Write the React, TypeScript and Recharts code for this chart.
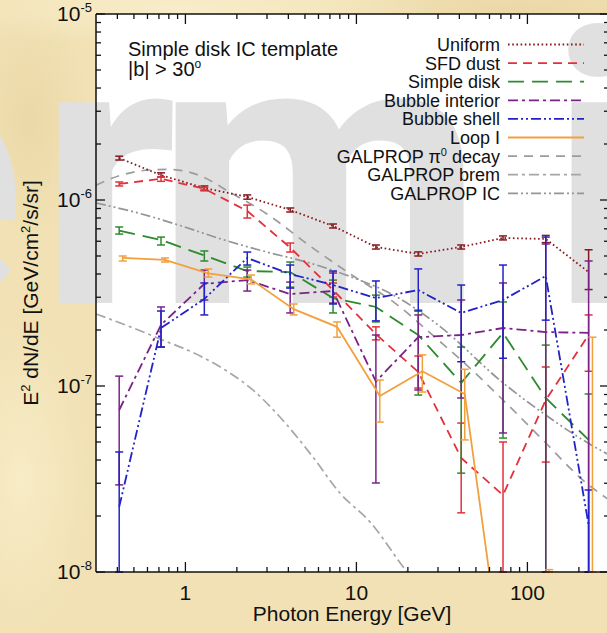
import { LineChart, Line, XAxis, YAxis, ErrorBar } from "recharts"

// bin centres (GeV); Loop I is plotted slightly offset
const energies = [0.41, 0.72, 1.29, 2.3, 4.1, 7.3, 13, 23, 41, 72, 128, 228]
const loopIEnergies = [0.43, 0.76, 1.36, 2.42, 4.3, 7.7, 13.7, 24.3, 43, 76, 134, 240]

// E^2 dN/dE [GeV/cm^2/s/sr], with lower / upper error bounds
// (1e-8 = bar runs down to the axis, null = no bar)
const uniform = [1.68e-6, 1.36e-6, 1.16e-6, 1.04e-6, 8.84e-7, 7.25e-7, 5.59e-7, 5.13e-7, 5.59e-7, 6.25e-7, 6.17e-7, 4.1e-7]
const uniformLo = [1.64e-6, 1.33e-6, 1.13e-6, 1.01e-6, 8.62e-7, 7.07e-7, 5.45e-7, 5.0e-7, 5.45e-7, 6.1e-7, 5.9e-7, 3.3e-7]
const uniformHi = [1.72e-6, 1.4e-6, 1.19e-6, 1.065e-6, 9.06e-7, 7.43e-7, 5.73e-7, 5.26e-7, 5.73e-7, 6.41e-7, 6.45e-7, 5.4e-7]

const sfdDust = [1.22e-6, 1.3e-6, 1.15e-6, 8.73e-7, 5.55e-7, 3.28e-7, 1.9e-7, 1.19e-7, 4.1e-8, 2.59e-8, 8.41e-8, 1.88e-7]
const sfdDustLo = [1.19e-6, 1.26e-6, 1.12e-6, 8.0e-7, 5.25e-7, 3.01e-7, 1.77e-7, 9.75e-8, 2.08e-8, 1e-8, 3.9e-8, 1.2e-7]
const sfdDustHi = [1.25e-6, 1.33e-6, 1.17e-6, 9.39e-7, 5.87e-7, 3.58e-7, 2.08e-7, 1.45e-7, 6.32e-8, 5.0e-8, 1.265e-7, 2.41e-7]

const simpleDisk = [6.85e-7, 6.1e-7, 5.03e-7, 4.15e-7, 4.1e-7, 2.97e-7, 2.66e-7, 1.88e-7, 1.04e-7, 1.93e-7, 8.62e-8, 5.13e-8]
const simpleDiskLo = [6.56e-7, 5.73e-7, 4.7e-7, 3.85e-7, 3.4e-7, 2.47e-7, 2.21e-7, 8.94e-8, 3.4e-8, 5.25e-8, 1e-8, 1e-8]
const simpleDiskHi = [7.16e-7, 6.32e-7, 5.32e-7, 4.36e-7, 4.64e-7, 3.71e-7, 3.08e-7, 2.56e-7, 1.62e-7, 2.83e-7, 1.66e-7, 9.06e-8]

const bubbleInterior = [7.43e-8, 2.13e-7, 3.54e-7, 3.71e-7, 3.12e-7, 3.24e-7, 1.057e-7, 1.83e-7, 1.88e-7, 2.05e-7, 1.95e-7, 1.93e-7]
const bubbleInteriorLo = [2.94e-8, 1.62e-7, 2.9e-7, 3.24e-7, 2.47e-7, 2.79e-7, 3.01e-8, 9.52e-8, 8.62e-8, 5.59e-8, 1e-8, 1e-8]
const bubbleInteriorHi = [1.13e-7, 2.66e-7, 4.2e-7, 4.2e-7, 3.62e-7, 4.05e-7, 1.88e-7, 2.41e-7, 2.9e-7, 3.58e-7, 5.8e-7, 4.7e-7]

const bubbleShell = [2.24e-8, 2.05e-7, 2.94e-7, 4.88e-7, 4.0e-7, 3.49e-7, 2.97e-7, 3.28e-7, 2.47e-7, 2.9e-7, 3.9e-7, 1.79e-8]
const bubbleShellLo = [1e-8, 1.62e-7, 2.41e-7, 4.47e-7, 3.36e-7, 2.76e-7, 2.24e-7, 2.53e-7, 1.35e-7, 1.41e-7, 2.26e-7, 1e-8]
const bubbleShellHi = [4.42e-8, 2.53e-7, 3.58e-7, 5.25e-7, 4.47e-7, 4.15e-7, 3.67e-7, 4.26e-7, 3.49e-7, 4.47e-7, 6.32e-7, 2.76e-8]

const loopI = [4.88e-7, 4.76e-7, 4.03e-7, 3.74e-7, 2.59e-7, 2.08e-7, 8.84e-8, 1.2e-7, 9.06e-8, 2e-9, 1e-9, 2e-9]
const loopILo = [4.7e-7, 4.64e-7, 3.85e-7, 3.54e-7, 2.41e-7, 1.83e-7, 6.4e-8, 9.28e-8, 5.13e-8, null, 1e-8, 1e-8]
const loopIHi = [5.0e-7, 4.88e-7, 4.26e-7, 3.95e-7, 2.76e-7, 2.21e-7, 1.077e-7, 1.47e-7, 1.23e-7, null, 1.03e-8, 1.83e-7]

// GALPROP model curves
const pi0Energies = [0.3, 0.41, 0.62, 0.81, 1.22, 1.82, 3.0, 5.35, 9.4, 16.8, 30, 42, 72, 123, 211, 300]
const pi0Decay = [1.2e-6, 1.35e-6, 1.45e-6, 1.46e-6, 1.35e-6, 1.1e-6, 8.41e-7, 5.66e-7, 3.95e-7, 2.79e-7, 1.77e-7, 1.35e-7, 8.41e-8, 5.13e-8, 3.12e-8, 2.44e-8]

const bremEnergies = [0.3, 0.53, 0.71, 1.22, 1.82, 2.48, 3.57, 5.57, 8.0, 12, 19.8, 30.8]
const brem = [2.44e-7, 2.0e-7, 1.79e-7, 1.45e-7, 1.175e-7, 9.52e-8, 6.81e-8, 4.15e-8, 2.66e-8, 1.86e-8, 1.0e-8, 6.25e-9]

const icEnergies = [0.3, 0.53, 0.95, 1.68, 3.0, 5.35, 9.4, 16.8, 30, 72, 123, 211, 300]
const inverseCompton = [9.64e-7, 8.51e-7, 7.25e-7, 6.1e-7, 5.25e-7, 4.58e-7, 3.85e-7, 3.05e-7, 2.13e-7, 1.04e-7, 7.16e-8, 5.13e-8, 4.26e-8]

const xTicks = [0.4, 0.5, 0.6, 0.7, 0.8, 0.9, 1, 2, 3, 4, 5, 6, 7, 8, 9, 10, 20, 30, 40, 50, 60, 70, 80, 90, 100, 200]
const yDecades = [-8, -7, -6]
const yTicks = [...yDecades.flatMap((d) => [1, 2, 3, 4, 5, 6, 7, 8, 9].map((m) => m * 10 ** d)), 1e-5]

const FONT = "'Liberation Sans', Arial, Helvetica, sans-serif"

type Row = { x: number; y: number; err?: [number, number] }

function rows(xs: number[], ys: number[], lo?: (number | null)[], hi?: (number | null)[]): Row[] {
  return xs.map((x, i) => {
    const l = lo?.[i]
    const h = hi?.[i]
    return { x, y: ys[i], err: l != null && h != null ? [ys[i] - l, h - ys[i]] : undefined }
  })
}

const series = [
  { name: "Uniform", color: "#861a1e", dash: "1.6 2.6", data: rows(energies, uniform, uniformLo, uniformHi) },
  { name: "SFD dust", color: "#e3303b", dash: "9 6", data: rows(energies, sfdDust, sfdDustLo, sfdDustHi) },
  { name: "Simple disk", color: "#2d8a2d", dash: "16 8", data: rows(energies, simpleDisk, simpleDiskLo, simpleDiskHi) },
  { name: "Bubble interior", color: "#7a2288", dash: "10 4 3 4", data: rows(energies, bubbleInterior, bubbleInteriorLo, bubbleInteriorHi) },
  { name: "Bubble shell", color: "#2222c8", dash: "10 3 2 3 2 3", data: rows(energies, bubbleShell, bubbleShellLo, bubbleShellHi) },
  { name: "Loop I", color: "#f2a03c", dash: undefined, data: rows(loopIEnergies, loopI, loopILo, loopIHi) },
]

const models = [
  { name: "GALPROP pi0", color: "#9c9c9c", dash: "9 7", data: rows(pi0Energies, pi0Decay) },
  { name: "GALPROP brem", color: "#a6a6a6", dash: "10 4 3 4", data: rows(bremEnergies, brem) },
  { name: "GALPROP IC", color: "#959595", dash: "10 3 2 3 2 3", data: rows(icEnergies, inverseCompton) },
]

const legendItems = [
  ...series.map((s) => ({ label: <>{s.name}</>, color: s.color, dash: s.dash })),
  { label: <>GALPROP π<tspan dy={-7} fontSize={11}>0</tspan><tspan dy={7}> decay</tspan></>, color: models[0].color, dash: models[0].dash },
  { label: <>GALPROP brem</>, color: models[1].color, dash: models[1].dash },
  { label: <>GALPROP IC</>, color: models[2].color, dash: models[2].dash },
]

const isDecade = (v: number) => Math.abs(Math.log10(v) - Math.round(Math.log10(v))) < 1e-6

function BottomTick(props: any) {
  const { x, y, payload } = props
  const major = isDecade(payload.value)
  return (
    <g>
      <line x1={x} x2={x} y1={y} y2={y - (major ? 10 : 5)} stroke="#111" strokeWidth={1.3} />
      {major && (
        <text x={x} y={y + 28} textAnchor="middle" fontSize={21} fontFamily={FONT} fill="#111">
          {payload.value}
        </text>
      )}
    </g>
  )
}

function TopTick(props: any) {
  const { x, y, payload } = props
  const major = isDecade(payload.value)
  return <line x1={x} x2={x} y1={y} y2={y + (major ? 10 : 5)} stroke="#111" strokeWidth={1.3} />
}

function LeftTick(props: any) {
  const { x, y, payload } = props
  const major = isDecade(payload.value)
  const exp = Math.round(Math.log10(payload.value))
  return (
    <g>
      <line x1={x} x2={x + (major ? 9 : 5)} y1={y} y2={y} stroke="#111" strokeWidth={1.3} />
      {major && (
        <text x={x - 4} y={y + 7} textAnchor="end" fontSize={21} fontFamily={FONT} fill="#111">
          10<tspan dy={-9} fontSize={13}>{exp}</tspan>
        </text>
      )}
    </g>
  )
}

function RightTick(props: any) {
  const { x, y, payload } = props
  const major = isDecade(payload.value)
  return <line x1={x} x2={x - (major ? 9 : 5)} y1={y} y2={y} stroke="#111" strokeWidth={1.3} />
}

const PLOT = { left: 96, top: 14, right: 609, bottom: 572 }

const logAxis = {
  type: "number" as const,
  scale: "log" as const,
  allowDataOverflow: true,
  interval: 0 as const,
  tickSize: 0,
  tickMargin: 0,
  tickLine: false,
  axisLine: { stroke: "#111", strokeWidth: 1.5 },
}

export default function App() {
  return (
    <div
      style={{
        position: "fixed",
        left: 0,
        top: 0,
        width: 607,
        height: 633,
        overflow: "hidden",
        backgroundColor: "#f1e1b4",
        backgroundImage:
          "radial-gradient(ellipse 260px 40px at 180px 8px, rgba(250,240,208,0.8), transparent), radial-gradient(ellipse 200px 60px at 520px 20px, rgba(230,208,156,0.6), transparent), radial-gradient(ellipse 70px 160px at 20px 480px, rgba(250,240,206,0.7), transparent), radial-gradient(ellipse 60px 120px at 30px 120px, rgba(230,208,156,0.5), transparent)",
      }}
    >
      {/* plot background and watermark, underneath the chart */}
      <svg width={607} height={633} style={{ position: "absolute", left: 0, top: 0 }}>
        <rect x={PLOT.left} y={PLOT.top} width={PLOT.right - PLOT.left} height={PLOT.bottom - PLOT.top} fill="#ffffff" />
        <g fontFamily="Roboto, 'Liberation Sans', sans-serif" fontWeight={700} fontSize={380} fill="#e0e0e0">
          <text x={-180} y={303}>e</text>
          <text x={38} y={303}>r</text>
          <text x={155} y={303}>m</text>
          <text x={548} y={303}>i</text>
        </g>
      </svg>

      <div style={{ position: "absolute", left: 0, top: 0 }}>
        <LineChart width={620} height={633} margin={{ top: 13, right: 10, bottom: 21, left: 0 }}>
          <XAxis {...logAxis} xAxisId="b" dataKey="x" domain={[0.3, 300]} ticks={xTicks} tick={BottomTick} height={40} />
          <XAxis {...logAxis} xAxisId="t" orientation="top" dataKey="x" domain={[0.3, 300]} ticks={xTicks} tick={TopTick} height={1} />
          <YAxis {...logAxis} yAxisId="l" domain={[1e-8, 1e-5]} ticks={yTicks} tick={LeftTick} width={96} />
          <YAxis {...logAxis} yAxisId="r" orientation="right" domain={[1e-8, 1e-5]} ticks={yTicks} tick={RightTick} width={1} />

          {models.map((m) => (
            <Line
              key={m.name}
              xAxisId="b"
              yAxisId="l"
              data={m.data}
              dataKey="y"
              type="monotone"
              stroke={m.color}
              strokeWidth={1.7}
              strokeDasharray={m.dash}
              dot={false}
              activeDot={false}
              isAnimationActive={false}
            />
          ))}

          {series.map((s) => (
            <Line
              key={s.name}
              xAxisId="b"
              yAxisId="l"
              data={s.data}
              dataKey="y"
              type="linear"
              stroke={s.color}
              strokeWidth={1.8}
              strokeDasharray={s.dash}
              dot={false}
              activeDot={false}
              isAnimationActive={false}
            >
              <ErrorBar dataKey="err" direction="y" width={4} stroke={s.color} strokeWidth={1.5} isAnimationActive={false} />
            </Line>
          ))}
        </LineChart>
      </div>

      {/* labels, legend and axis titles */}
      <svg width={607} height={633} style={{ position: "absolute", left: 0, top: 0, pointerEvents: "none" }} fontFamily={FONT} fill="#111">
        <text x={128} y={56} fontSize={20}>Simple disk IC template</text>
        <text x={128} y={76} fontSize={20}>
          |b| &gt; 30<tspan dy={-8} fontSize={12}>o</tspan>
        </text>

        {legendItems.map((item, i) => {
          const cy = 44.5 + i * 18.6
          return (
            <g key={i}>
              <text x={500} y={cy + 6.5} fontSize={18} textAnchor="end">
                {item.label}
              </text>
              <line x1={508} x2={584} y1={cy} y2={cy} stroke={item.color} strokeWidth={1.8} strokeDasharray={item.dash} />
            </g>
          )
        })}

        <text x={352} y={621} fontSize={21} textAnchor="middle">Photon Energy [GeV]</text>
        <text transform="translate(38,293) rotate(-90)" fontSize={21} textAnchor="middle">
          E<tspan dy={-8} fontSize={13}>2</tspan>
          <tspan dy={8}> dN/dE [GeV/cm</tspan>
          <tspan dy={-8} fontSize={13}>2</tspan>
          <tspan dy={8}>/s/sr]</tspan>
        </text>
      </svg>
    </div>
  )
}
